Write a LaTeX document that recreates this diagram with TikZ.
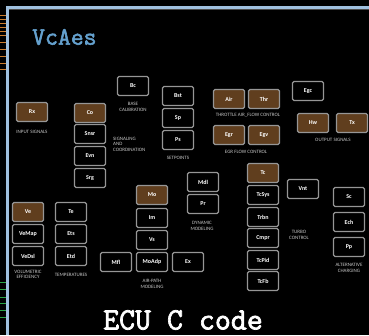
\documentclass[tikz,border=0pt]{standalone}
\usepackage{fontspec}
\setmainfont{Carlito}
\newfontfamily\heavymono[FakeBold=2.2]{Latin Modern Mono}
\begin{document}
\begin{tikzpicture}[x=1pt,y=-1pt,
  bx/.style={draw=boxgray, line width=1.1pt, rounded corners=1.5pt, minimum width=31pt, minimum height=19pt, inner sep=0pt, text=white, font=\fontsize{6}{7}\selectfont\bfseries},
  bb/.style={bx, fill=boxbrown},
  lbl/.style={text=lblgray, font=\fontsize{5}{6}\selectfont, align=center, inner sep=0pt},
  tick/.style={line width=1pt}
]
\definecolor{boxgray}{RGB}{150,150,150}
\definecolor{boxbrown}{RGB}{96,62,30}
\definecolor{lblgray}{RGB}{200,200,200}
\definecolor{framebl}{RGB}{160,192,222}
\definecolor{titlebl}{RGB}{100,160,205}
\definecolor{orng}{RGB}{205,125,45}
\definecolor{grn}{RGB}{40,165,70}
\useasboundingbox (0,0) rectangle (369,335);
\fill[black] (0,0) rectangle (369,335);
% frame
\fill[framebl] (6,6) rectangle (369,9);
\fill[framebl] (6,6) rectangle (9,335);
\draw[gray!60!black, line width=0.8pt] (9,9.6) -- (369,9.6);
% ticks
\foreach \yy in {15,19,23,27,31,35,42,49,56,63,69} \draw[orng,tick] (0,\yy) -- (6,\yy);
\foreach \yy in {282,289,297,303,310,317} \draw[grn,tick] (0,\yy) -- (6,\yy);
% title
\node[anchor=west, text=titlebl, font=\heavymono\fontsize{25}{27}\selectfont, inner sep=0pt] (title) at (32,37) {VcAes};
\node[text=white, font=\heavymono\fontsize{31}{33}\selectfont, inner sep=0pt] (ecu) at (183,320) {ECU C code};
% input
\node[bb] (Rx) at (32,112) {Rx};
\node[lbl] (lin) at (32,132) {INPUT SIGNALS};
% signaling
\node[bb] (Co) at (90,113) {Co};
\node[bx] (Snsr) at (90,134) {Snsr};
\node[bx] (Evn) at (90,156) {Evn};
\node[bx] (Srg) at (90,178) {Srg};
\node[lbl, anchor=west, align=left] (lsig) at (113,144) {SIGNALING\\[-0.5pt]AND\\[-0.5pt]COORDINATION};
% base
\node[bx] (Bc) at (133,86) {Bc};
\node[lbl] (lbc) at (133,107) {BASE\\[-0.5pt]CALIBRATION};
% setpoints
\node[bx] (Bst) at (178,96) {Bst};
\node[bx] (Sp) at (178,118) {Sp};
\node[bx] (Ps) at (178,140) {Ps};
\node[lbl] (lsp) at (178,158) {SETPOINTS};
% throttle
\node[bb] (Air) at (229,99) {Air};
\node[bb] (Thr) at (264,99) {Thr};
\node[lbl] (lthr) at (248,115) {THROTTLE AIR\_FLOW CONTROL};
\node[bx] (Egc) at (308,91) {Egc};
\node[bb] (Egr) at (229,135) {Egr};
\node[bb] (Egv) at (264,135) {Egv};
\node[lbl] (legr) at (246,152) {EGR FLOW CONTROL};
% output
\node[bb] (Hw) at (313,123) {Hw};
\node[bb] (Tx) at (352,123) {Tx};
\node[lbl] (lout) at (333,140) {OUTPUT SIGNALS};
% dynamic
\node[bx] (Mdl) at (203,182) {Mdl};
\node[bx] (Pr) at (203,204) {Pr};
\node[lbl] (ldyn) at (202,226) {DYNAMIC\\[-0.5pt]MODELING};
% turbo
\node[bb] (Tc) at (263,173) {Tc};
\node[bx] (TcSys) at (263,195) {TcSys};
\node[bx] (Trbn) at (263,217) {Trbn};
\node[bx] (Cmpr) at (263,238) {Cmpr};
\node[bx] (TcPid) at (263,260) {TcPid};
\node[bx] (TcFb) at (263,281) {TcFb};
\node[lbl] (lturbo) at (299,235) {TURBO\\[-0.5pt]CONTROL};
\node[bx] (Vnt) at (303,189) {Vnt};
% alternative
\node[bx] (Sc) at (349,197) {Sc};
\node[bx] (Ech) at (349,222) {Ech};
\node[bx] (Pp) at (349,247) {Pp};
\node[lbl] (lalt) at (349,268) {ALTERNATIVE\\[-0.5pt]CHARGING};
% air path
\node[bb] (Mo) at (152,195) {Mo};
\node[bx] (Im) at (152,218) {Im};
\node[bx] (Vs) at (152,240) {Vs};
\node[bx] (MoAdp) at (152,262) {MoAdp};
\node[bx] (Mfl) at (116,262) {Mfl};
\node[bx] (Ex) at (188,262) {Ex};
\node[lbl] (lair) at (152,284) {AIR-PATH\\[-0.5pt]MODELING};
% volumetric
\node[bb] (Ve) at (28,212) {Ve};
\node[bx] (VeMap) at (28,234) {VeMap};
\node[bx] (VeDsl) at (28,256) {VeDsl};
\node[lbl] (lvol) at (28,274.5) {VOLUMETRIC\\[-0.5pt]EFFICIENCY};
% temperatures
\node[bx] (Te) at (71,212) {Te};
\node[bx] (Ets) at (71,234) {Ets};
\node[bx] (Etd) at (71,256) {Etd};
\node[lbl] (ltemp) at (71,275) {TEMPERATURES};
\end{tikzpicture}
\end{document}
